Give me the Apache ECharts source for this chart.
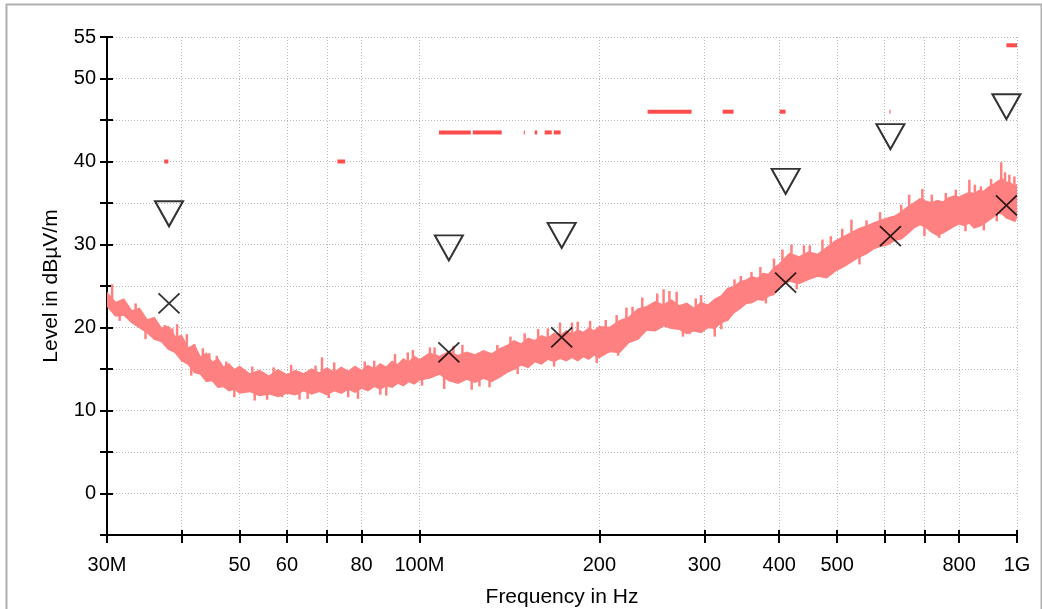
<!DOCTYPE html>
<html>
<head>
<meta charset="utf-8">
<script src="https://cdn.jsdelivr.net/npm/echarts@6/dist/echarts.min.js"></script>
<style>
html,body{margin:0;padding:0;background:#fff;}
#chart{width:1042px;height:609px;}
</style>
</head>
<body>
<div id="chart"></div>
<script>
// ---------- data (frequencies in MHz, levels in dBµV/m) ----------
const xTickValues = [30, 40, 50, 60, 70, 80, 100, 200, 300, 400, 500, 600, 700, 800, 1000];
const xLabelValues = [30, 50, 60, 80, 100, 200, 300, 400, 500, 800, 1000];
const xLabelTexts  = ['30M', '50', '60', '80', '100M', '200', '300', '400', '500', '800', '1G'];
const yLabelValues = [0, 10, 20, 30, 40, 50, 55];

// measured trace envelope (upper / lower edge of the noisy sweep)
const traceMHz = [
  30, 31, 32, 33, 34, 35, 36, 37, 38, 39, 40, 41, 42, 43, 44, 45, 46, 47, 48, 49, 50,
  52, 54, 56, 58, 60, 62, 64, 66, 68, 70, 72, 74, 76, 78, 80, 82, 84, 86, 88, 90, 92, 94, 96, 98, 100,
  104, 108, 112, 116, 120, 124, 128, 132, 136, 140, 144, 148, 152, 156, 160, 164, 168, 172, 176, 180, 184, 188, 192, 196, 200,
  208, 216, 224, 232, 240, 248, 256, 264, 272, 280, 288, 296, 304, 312, 320, 328, 336, 344, 352, 360, 368, 376, 384, 392, 400,
  416, 432, 448, 464, 480, 496, 512, 528, 544, 560, 576, 592, 608, 624, 640, 656, 672, 688, 704, 720, 736, 752, 768, 784, 800,
  816, 832, 848, 864, 880, 896, 912, 928, 944, 960, 976, 992, 1000];
const traceHi = [
  24.2, 23.0, 23.4, 22.0, 22.3, 20.9, 21.2, 19.9, 20.1, 18.9, 19.0, 17.5, 17.9, 16.4, 16.9, 15.8, 16.2, 15.2, 15.6, 14.9, 15.3,
  14.4, 14.8, 14.1, 14.9, 14.3, 14.8, 14.4, 15.0, 14.5, 15.1, 14.6, 15.2, 14.7, 15.3, 14.8, 15.4, 15.0, 15.6, 15.2, 15.9, 15.5, 16.2, 15.8, 16.5, 16.1,
  16.9, 16.5, 17.1, 16.6, 17.0, 16.7, 17.2, 16.8, 17.4, 17.8, 18.4, 18.0, 18.7, 18.4, 19.0, 18.7, 19.3, 19.0, 19.6, 19.2, 19.7, 19.4, 19.9, 19.6, 20.1,
  20.0, 20.8, 21.2, 22.2, 22.5, 23.1, 22.7, 23.3, 22.6, 22.9, 22.3, 23.0, 22.7, 23.4, 23.8, 24.7, 24.9, 25.5, 25.7, 26.1, 25.9, 26.5, 26.4, 27.2, 27.6,
  28.9, 28.5, 29.1, 28.8, 29.6, 30.4, 30.9, 31.4, 31.9, 32.2, 32.6, 32.9, 33.2, 33.4, 33.9, 34.5, 35.0, 35.5, 35.2, 35.0, 35.3, 35.1, 35.6, 35.8, 35.7,
  36.0, 36.3, 36.1, 36.5, 36.4, 36.9, 37.2, 37.6, 37.9, 37.5, 37.4, 37.0, 37.2];
const traceLo = [
  22.6, 21.4, 21.5, 20.6, 20.0, 19.4, 18.6, 18.3, 17.4, 17.0, 16.0, 15.6, 14.6, 14.4, 13.5, 13.6, 12.8, 12.9, 12.4, 12.6, 12.1,
  12.3, 11.8, 12.0, 11.7, 12.1, 11.9, 12.4, 12.0, 12.3, 11.9, 12.4, 12.1, 12.6, 12.2, 12.7, 12.4, 12.9, 12.6, 13.0, 12.8, 13.3, 13.0, 13.5, 13.2, 13.7,
  13.9, 14.4, 13.6, 13.3, 13.8, 13.4, 13.9, 13.5, 14.0, 14.6, 15.0, 15.5, 15.2, 15.9, 15.6, 16.2, 15.9, 16.3, 16.0, 16.4, 16.0, 16.5, 16.2, 16.7, 16.4,
  17.1, 17.0, 18.2, 18.6, 19.7, 19.6, 20.2, 19.9, 19.8, 19.3, 19.6, 19.4, 20.0, 19.9, 20.6, 20.9, 21.8, 22.3, 22.9, 23.0, 23.4, 23.3, 23.8, 24.0, 24.9,
  25.6, 25.3, 25.8, 26.2, 26.0, 26.8, 27.3, 27.9, 28.5, 28.9, 29.5, 29.8, 30.0, 30.5, 30.7, 31.3, 32.0, 32.4, 32.1, 31.5, 31.1, 31.4, 31.8, 32.2, 32.5,
  32.3, 32.6, 32.0, 32.2, 32.5, 32.9, 33.3, 33.8, 33.7, 33.2, 33.0, 32.8, 33.4];

// visible noise spikes of the trace: frequency, level inside the band, spike tip level
const spikeMHz  = [30.6, 36.1, 39.3, 40.8, 43.4, 45.8, 55.6, 58.9, 68.7, 78.9, 95.6, 97.5, 104.1, 122.3, 171.9, 184.0, 213.8, 227.3, 256.2, 269.4, 283.2, 336.7, 359.4, 419.4, 472.5, 528.4, 618.9, 694.4, 741.0, 832.3, 880.0, 941.0, 970.9,
                   33.5, 37.5, 42.0, 47.5, 52.5, 61, 65, 72, 76, 84, 88, 110, 118, 131, 142, 150, 164, 193, 205, 222, 250, 296, 312, 372, 392, 405, 450, 488, 560, 660, 720, 790, 850, 905, 990,
                   31.5, 34.8, 38.6, 41.5, 44.5, 49, 53, 57, 63, 67, 70.5, 81, 86, 91, 101, 106, 114, 126, 135, 146, 158, 168, 180, 198, 215, 236, 262, 276, 290, 320, 345, 380, 428, 440, 510, 545, 590, 640, 700, 760, 820, 870, 925, 955];
const spikeBase = [23.0, 19.5, 17.5, 16.5, 15.5, 14.5, 13.0, 13.0, 13.5, 13.5, 14.5, 14.8, 15.5, 15.0, 17.6, 17.8, 18.5, 19.5, 21.5, 21.5, 21.0, 22.5, 24.0, 27.0, 27.5, 30.0, 31.0, 33.5, 33.0, 34.5, 33.5, 35.5, 35.0,
                   21.0, 18.5, 16.0, 14.0, 13.0, 13.0, 13.0, 13.5, 13.5, 14.0, 14.0, 15.0, 15.0, 15.0, 16.0, 16.5, 17.0, 18.0, 18.5, 19.0, 21.5, 21.0, 21.5, 24.5, 25.0, 26.0, 27.0, 28.0, 30.0, 33.0, 33.0, 34.0, 34.0, 35.0, 35.0,
                   22.0, 20.0, 17.5, 15.5, 14.5, 13.0, 12.5, 13.0, 13.0, 13.0, 13.0, 13.5, 14.0, 14.5, 15.0, 15.5, 15.0, 15.0, 15.5, 16.5, 17.0, 17.5, 18.0, 18.0, 19.0, 20.5, 21.5, 21.0, 21.0, 22.0, 23.5, 25.0, 27.0, 27.0, 29.0, 30.0, 31.0, 32.0, 33.5, 33.5, 34.0, 34.5, 35.5, 35.5];
const spikeTip  = [25.2, 20.6, 20.4, 19.2, 17.5, 16.6, 11.3, 11.6, 16.4, 11.4, 17.0, 17.3, 17.6, 12.5, 20.6, 20.7, 21.5, 22.5, 24.6, 24.3, 19.2, 25.8, 26.7, 30.0, 30.6, 33.0, 33.4, 36.7, 30.8, 37.8, 31.7, 39.9, 38.4,
                   22.9, 20.3, 18.0, 15.9, 15.3, 15.5, 11.4, 15.8, 11.6, 16.0, 11.8, 12.6, 17.9, 12.8, 18.9, 19.3, 19.9, 20.8, 20.9, 22.4, 24.1, 23.9, 18.9, 27.3, 28.3, 29.4, 29.9, 31.0, 32.9, 36.0, 36.0, 36.6, 37.2, 37.9, 38.2,
                   20.8, 18.6, 19.9, 14.2, 16.9, 11.6, 11.2, 15.2, 11.3, 15.4, 11.5, 15.9, 11.9, 16.8, 13.0, 17.6, 17.8, 12.9, 17.9, 14.4, 19.8, 15.3, 20.6, 15.7, 16.6, 23.6, 24.4, 18.9, 23.5, 19.8, 26.2, 22.9, 24.6, 29.9, 31.9, 27.6, 33.9, 34.8, 31.0, 36.2, 31.6, 37.0, 32.8, 38.7];

// limit line fragments: start MHz, end MHz, level
const limitStart = [37.4, 72.9, 107.8, 122.8, 149.5, 155.9, 162.0, 167.8, 240.9, 321.7, 400.6, 611.7, 960.0];
const limitEnd   = [38.0, 75.1, 121.9, 137.3, 150.0, 157.4, 166.5, 172.3, 285.4, 335.5, 409.9, 614.0, 1000];
const limitLevel = [40, 40, 43.5, 43.5, 43.5, 43.5, 43.5, 43.5, 46, 46, 46, 46, 54];

// final measurement markers
const markerMHz   = [38.1, 112, 173, 410, 614, 960];
const peakLevel   = [33.7, 29.6, 31.1, 37.6, 43.0, 46.6];
const qpeakLevel  = [22.9, 17.0, 18.8, 25.4, 31.0, 34.7];

// ---------- styling ----------
const FONT = '"Liberation Sans", Arial, sans-serif';
const traceColor = '#ff8080';
const limitColor = '#ff4d4d';
const gridRect = {left: 107, right: 25, top: 37, bottom: 74, containLabel: false, outerBoundsMode: 'none'};

function xLabel(v) {
  let best = 0, bd = Infinity;
  for (let i = 0; i < xLabelValues.length; i++) {
    const d = Math.abs(Math.log(v) - Math.log(xLabelValues[i]));
    if (d < bd) { bd = d; best = i; }
  }
  return xLabelTexts[best];
}

function tickAxis(gridIndex, inside, len) {
  return {
    type: 'log', logBase: 10, min: 30, max: 1000, gridIndex: gridIndex,
    axisLine: {show: false, onZero: false},
    axisTick: {show: true, inside: inside, length: len, customValues: xTickValues, lineStyle: {color: '#000', width: 2}},
    axisLabel: {show: false},
    splitLine: {show: false}, minorTick: {show: false}, minorSplitLine: {show: false}
  };
}
function yTickAxis(gridIndex) {
  return {
    type: 'value', min: -5, max: 55, interval: 5, gridIndex: gridIndex,
    axisLine: {show: false, onZero: false},
    axisTick: {show: true, inside: true, length: 6, lineStyle: {color: '#000', width: 2}},
    axisLabel: {show: false},
    splitLine: {show: false}
  };
}

const chart = echarts.init(document.getElementById('chart'), null, {renderer: 'canvas'});

const option = {
  backgroundColor: '#ffffff',
  animation: false,
  grid: [
    Object.assign({}, gridRect),
    Object.assign({}, gridRect),
    Object.assign({}, gridRect)
  ],
  xAxis: [{
    type: 'log', logBase: 10, min: 30, max: 1000, gridIndex: 0,
    name: 'Frequency in Hz', nameLocation: 'middle', nameGap: 52,
    nameTextStyle: {fontFamily: FONT, fontSize: 21, color: '#000'},
    axisLine: {show: true, onZero: false, lineStyle: {color: '#000', width: 2}},
    axisTick: {show: false, customValues: xTickValues},
    axisLabel: {show: true, customValues: xLabelValues, formatter: xLabel, fontFamily: FONT, fontSize: 20, color: '#000', margin: 20},
    splitLine: {show: true, lineStyle: {color: '#b8b8b8', width: 1, type: [1, 2]}},
    minorTick: {show: false}, minorSplitLine: {show: false}
  },
  tickAxis(1, false, 8),
  tickAxis(2, true, 5)],
  yAxis: [{
    type: 'value', min: -5, max: 55, interval: 5, gridIndex: 0,
    name: 'Level in dB\u00B5V/m', nameLocation: 'middle', nameGap: 45, nameRotate: 90,
    nameTextStyle: {fontFamily: FONT, fontSize: 21, color: '#000'},
    axisLine: {show: true, onZero: false, lineStyle: {color: '#000', width: 2}},
    axisTick: {show: true, inside: false, length: 7, lineStyle: {color: '#000', width: 2}},
    axisLabel: {show: true, customValues: yLabelValues, fontFamily: FONT, fontSize: 20, color: '#000', margin: 11},
    splitLine: {show: true, lineStyle: {color: '#b8b8b8', width: 1, type: [1, 2]}}
  },
  yTickAxis(1),
  yTickAxis(2)],
  series: [
    {
      name: 'trace', type: 'custom', xAxisIndex: 0, yAxisIndex: 0, z: 2, clip: true,
      data: [[traceMHz[0], traceLo[0]]],
      renderItem: function (params, api) {
        const pts = [];
        for (let i = 0; i < traceMHz.length; i++) pts.push(api.coord([traceMHz[i], traceHi[i]]));
        for (let i = traceMHz.length - 1; i >= 0; i--) pts.push(api.coord([traceMHz[i], traceLo[i]]));
        return {type: 'polygon', shape: {points: pts}, style: {fill: traceColor, stroke: traceColor, lineWidth: 1.5}};
      }
    },
    {
      name: 'spikes', type: 'custom', xAxisIndex: 0, yAxisIndex: 0, z: 2, clip: true,
      data: spikeMHz.map((f, i) => [f, spikeBase[i], spikeTip[i]]),
      renderItem: function (params, api) {
        const a = api.coord([api.value(0), api.value(1)]);
        const b = api.coord([api.value(0), api.value(2)]);
        return {type: 'line', shape: {x1: a[0], y1: a[1], x2: b[0], y2: b[1]}, style: {stroke: traceColor, lineWidth: 2.5}};
      }
    },
    {
      name: 'limit', type: 'custom', xAxisIndex: 0, yAxisIndex: 0, z: 3, clip: true,
      data: limitStart.map((s, i) => [s, limitLevel[i], limitEnd[i]]),
      renderItem: function (params, api) {
        const a = api.coord([api.value(0), api.value(1)]);
        const b = api.coord([api.value(2), api.value(1)]);
        return {type: 'line', shape: {x1: a[0], y1: a[1], x2: Math.max(b[0], a[0] + 1), y2: b[1]}, style: {stroke: limitColor, lineWidth: 4, lineCap: 'butt'}};
      }
    },
    {
      name: 'Peak', type: 'scatter', xAxisIndex: 0, yAxisIndex: 0, z: 5,
      symbol: 'path://M0,0 L20,0 L10,19 Z', symbolSize: [28, 25],
      itemStyle: {color: 'rgba(0,0,0,0)', borderColor: '#000', borderWidth: 2},
      data: markerMHz.map((f, i) => [f, peakLevel[i]])
    },
    {
      name: 'QPeak', type: 'scatter', xAxisIndex: 0, yAxisIndex: 0, z: 5,
      symbol: 'path://M0,0 L10,10 M10,0 L0,10', symbolSize: [21, 20],
      itemStyle: {color: 'rgba(0,0,0,0)', borderColor: '#000', borderWidth: 1.8},
      data: markerMHz.map((f, i) => [f, qpeakLevel[i]])
    }
  ],
  graphic: [{
    type: 'rect', left: 4, top: 2, z: 100,
    shape: {width: 1035, height: 640},
    style: {fill: 'none', stroke: '#b0b0b0', lineWidth: 2}
  }]
};
chart.setOption(option);
</script>
</body>
</html>
